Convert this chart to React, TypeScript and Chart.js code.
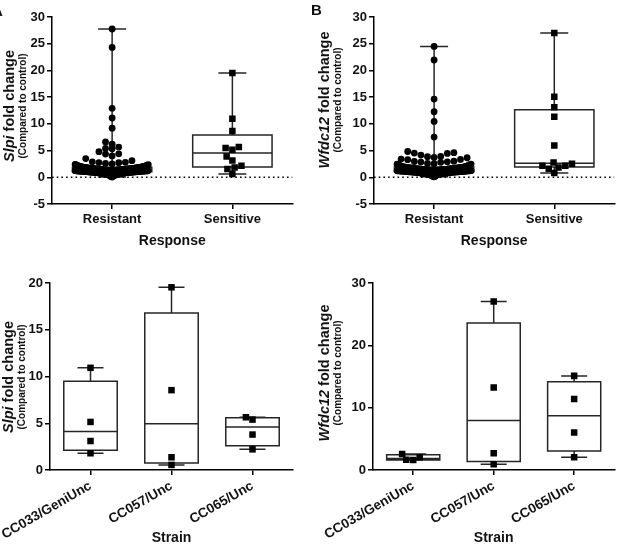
import React, { useEffect, useRef } from "react";
import { Chart, registerables } from "chart.js";

Chart.register(...registerables);

const FONT_FAMILY = "Arial, 'Liberation Sans', Helvetica, sans-serif";
Chart.defaults.font.family = FONT_FAMILY;
Chart.defaults.color = "#111";

// ---------------- data ----------------
const responseGroups = ["Resistant", "Sensitive"];
const strainGroups = ["CC033/GeniUnc", "CC057/Unc", "CC065/Unc"];

const responseTicks = [-5, 0, 5, 10, 15, 20, 25, 30];
const slpiStrainTicks = [0, 5, 10, 15, 20];
const wfdc12StrainTicks = [0, 10, 20, 30];

// Slpi fold change, resistant animals
const slpiResistant = [
  27.75, 24.3, 12.9, 11.1, 9.2, 6.6, 6.2, 5.65, 5.4, 5.35, 4.8, 4.4, 4.35, 4.0, 3.5, 3.1, 2.9, 2.8, 2.76, 2.72,
  1.12, 0.94, 1.47, 1.83, 0.66, 1.29, 2.05, 1.61, 0.88, 1.35, 1.02, 1.74, 0.41, 1.18, 1.93, 1.52, 0.79, 1.26,
  2.21, 1.44, 0.97, 1.67, 1.08, 0.58, 1.39, 1.88, 1.15, 0.73, 1.57, 2.36, 1.21, 0.91, 1.48, 1.79, 1.04, 0.27,
  1.33, 1.64, 0.84, 1.96, 1.11, 1.42, 0.69, 1.71, 1.24, 2.12, 0.99, 1.55, 1.37, 0.82, 1.86, 1.16, 0.52, 1.45,
  1.68, 1.06, 2.49, 1.31, 0.95, 1.59, 0.12, 1.77, 1.22, 0.76, 1.5, 1.99, 1.09, 1.41, 0.63, 1.63, 1.28, 2.28,
  0.86, 1.53, 1.14, 1.9, 0.35, 1.36, 1.72, 1.01, 2.58, 1.19, 0.9, 1.46, 0.05, 1.81, 1.3, 0.71, 1.6, 2.15,
  1.23, 0.81, 1.49, 1.97, 1.07, 1.62, 0.74, 1.38, 1.85, 1.13, 0.93, 1.56, 2.09, 1.27, 0.67, 1.43, 1.76, 1.03,
  1.91, 1.34, 0.89, 1.66, 1.2, 2.31, 0.98, 1.51, 1.17, 0.56, 1.82, 1.4, 1.05, 1.7, 0.84, 1.29, 2.02, 1.58,
  1.1, 0.77, 1.45, 1.94, 1.25, 0.61, 1.65, 1.32, 2.18, 0.96, 1.54, 1.15, 1.87, 1.37, 0.44, 1.73, 1.08, 1.48,
  2.41, 0.92, 1.61, 1.21, 1.79, 1.0, 0.7, 1.43, 1.99, 1.31, 0.86, 1.57, 2.25, 1.18, 0.2, 1.69,
];
// Slpi fold change, sensitive animals
const slpiSensitive = [19.5, 10.95, 8.65, 5.47, 5.15, 5.65, 3.9, 3.15, 1.84, 2.15, 1.53, 0.6];

// Wfdc12 fold change, resistant animals
const wfdc12Resistant = [
  24.5, 21.95, 14.64, 12.27, 10.45, 7.53, 4.83, 4.6, 4.53, 4.47, 4.16, 3.9, 3.84, 3.72, 3.66, 3.4, 3.34, 3.3,
  3.0, 2.95, 2.9, 2.85, 2.8,
  1.07, 1.58, 0.83, 1.34, 1.91, 0.62, 1.21, 1.76, 1.45, 0.98, 2.14, 1.13, 1.66, 0.74, 1.29, 1.87, 0.45, 1.52,
  1.03, 2.31, 1.38, 0.89, 1.69, 1.17, 1.99, 0.56, 1.43, 1.25, 0.93, 1.81, 1.61, 0.08, 1.33, 2.07, 1.09, 0.79,
  1.49, 1.72, 1.19, 2.44, 0.67, 1.37, 1.55, 0.96, 1.84, 1.27, 0.31, 1.63, 1.05, 1.95, 1.41, 0.85, 1.74, 1.15,
  2.22, 1.31, 0.7, 1.57, 1.0, 1.89, 1.23, 0.5, 1.47, 2.53, 1.11, 1.67, 0.92, 1.35, 1.79, 0.19, 1.53, 1.2, 2.01,
  0.76, 1.4, 1.64, 1.01, 1.86, 2.6, 1.28, 0.6, 1.5, 1.94, 1.14, 0.87, 1.71,
  1.18, 0.9, 1.54, 2.03, 1.1, 1.65, 0.72, 1.36, 1.83, 1.24, 0.97, 1.6, 2.17, 1.3, 0.64, 1.46, 1.78, 1.06,
  1.92, 1.39, 0.88, 1.7, 1.22, 2.34, 1.0, 1.56, 1.16, 0.53, 1.85, 1.42, 1.04, 1.73, 0.81, 1.26, 2.1, 1.62,
  1.12, 0.75, 1.48, 1.97, 1.28, 0.58, 1.68, 1.33, 2.26, 0.94, 1.51, 1.19, 1.9, 1.37, 0.41, 1.76, 1.08, 1.44,
  2.47, 0.99, 1.59, 1.25, 1.82, 1.02, 0.68, 1.47, 2.05, 1.32, 0.84, 1.55, 2.38, 1.2, 0.14, 1.71,
];
// Wfdc12 fold change, sensitive animals
const wfdc12Sensitive = [27.0, 15.07, 13.1, 11.35, 5.96, 2.53, 2.77, 1.84, 2.15, 2.15, 1.59, 0.79];

// per-strain values
const slpiCC033 = [10.93, 5.14, 3.1, 1.79];
const slpiCC057 = [19.54, 8.54, 1.36, 0.54];
const slpiCC065 = [5.64, 5.39, 3.79, 2.21];
const wfdc12CC033 = [2.57, 2.04, 1.66, 1.6];
const wfdc12CC057 = [27.05, 13.23, 2.68, 0.91];
const wfdc12CC065 = [15.1, 11.4, 6.0, 2.04];

// ---------------- helpers ----------------
type Marker = "circle" | "rect";

type PanelSpec = {
  left: number;
  top: number;
  width: number;
  height: number;
  pad: { left: number; top: number; right: number; bottom: number };
  yAxisWidth: number;
  xAxisHeight: number;
  categories: string[];
  groups: number[][];
  markers: Marker[];
  yTicks: number[];
  zeroLine: boolean;
  xTitle: string;
  titlePadBottom: number;
  labelRotation: number;
  tickFontSize: number;
  boxFraction: number;
  capWidth: number;
  swarmHalfWidth: number;
};

// quartiles computed the (n + 1) way
function quantile(sorted: number[], p: number): number {
  const n = sorted.length;
  const pos = p * (n + 1);
  if (pos <= 1) return sorted[0];
  if (pos >= n) return sorted[n - 1];
  const lo = Math.floor(pos);
  const frac = pos - lo;
  return sorted[lo - 1] + frac * (sorted[lo] - sorted[lo - 1]);
}

function summarize(values: number[]) {
  const s = [...values].sort((a, b) => a - b);
  return {
    min: s[0],
    q1: quantile(s, 0.25),
    med: quantile(s, 0.5),
    q3: quantile(s, 0.75),
    max: s[s.length - 1],
  };
}

// Small groups: greedy beeswarm, each point takes the free spot nearest the centre.
function swarmOffsets(pys: number[], d: number, maxHalf: number): number[] {
  const placed: { x: number; y: number }[] = [];
  const out: number[] = [];
  const d2 = d * d;
  for (const py of pys) {
    const near = placed.filter((p) => Math.abs(p.y - py) < d);
    const cands = [0];
    for (const p of near) {
      const w = Math.sqrt(d2 - (p.y - py) ** 2);
      cands.push(p.x - w, p.x + w);
    }
    const free = (x: number) => near.every((p) => (p.x - x) ** 2 + (p.y - py) ** 2 >= d2 - 1e-6);
    let best: number | null = null;
    for (const c of cands) {
      if (Math.abs(c) > maxHalf || !free(c)) continue;
      if (
        best === null ||
        Math.abs(c) < Math.abs(best) - 1e-9 ||
        (Math.abs(Math.abs(c) - Math.abs(best)) < 1e-9 && c < best)
      ) {
        best = c;
      }
    }
    if (best === null) best = 0;
    placed.push({ x: best, y: py });
    out.push(best);
  }
  return out;
}

// Large groups: points are binned in rows one marker high; within a row they fan
// out alternately left/right in ascending order, squeezed to fit the column.
function rowOffsets(pys: number[], py0: number, d: number, maxHalf: number): number[] {
  const rows = new Map<number, number[]>();
  pys.forEach((py, k) => {
    const r = Math.floor((py0 - py) / d);
    if (!rows.has(r)) rows.set(r, []);
    rows.get(r)!.push(k);
  });
  const out = new Array(pys.length).fill(0);
  rows.forEach((idx) => {
    const n = idx.length;
    const slots = Math.max(1, Math.ceil((n - 1) / 2));
    const step = Math.min(d, maxHalf / slots);
    idx.forEach((k, j) => {
      if (j === 0) out[k] = 0;
      else if (j % 2 === 1) out[k] = -((j + 1) / 2) * step;
      else out[k] = (j / 2) * step;
    });
  });
  return out;
}

function makeBoxPlugin(spec: PanelSpec) {
  return {
    id: "boxWhisker",
    beforeDatasetsDraw(chart: any) {
      const { ctx } = chart;
      const xs = chart.scales.x;
      const ys = chart.scales.y;
      const unit = xs.getPixelForValue(1) - xs.getPixelForValue(0);
      ctx.save();
      ctx.strokeStyle = "#262626";
      ctx.lineWidth = 1.5;
      spec.groups.forEach((vals, i) => {
        const st = summarize(vals);
        const cx = xs.getPixelForValue(i);
        const bw = (unit * spec.boxFraction) / 2;
        const cw = spec.capWidth / 2;
        const py = (v: number) => ys.getPixelForValue(v);
        ctx.beginPath();
        ctx.moveTo(cx, py(st.q3));
        ctx.lineTo(cx, py(st.max));
        ctx.moveTo(cx - cw, py(st.max));
        ctx.lineTo(cx + cw, py(st.max));
        ctx.moveTo(cx, py(st.q1));
        ctx.lineTo(cx, py(st.min));
        ctx.moveTo(cx - cw, py(st.min));
        ctx.lineTo(cx + cw, py(st.min));
        ctx.rect(cx - bw, py(st.q3), 2 * bw, py(st.q1) - py(st.q3));
        ctx.moveTo(cx - bw, py(st.med));
        ctx.lineTo(cx + bw, py(st.med));
        ctx.stroke();
      });
      ctx.restore();
    },
  };
}

function buildConfig(spec: PanelSpec): any {
  const n = spec.categories.length;
  const datasets: any[] = spec.groups.map((vals, i) => ({
    label: spec.categories[i],
    data: vals.map((v) => ({ x: i, y: v })),
    pointStyle: spec.markers[i],
    pointRadius: spec.markers[i] === "rect" ? 4.6 : 3.4,
    pointBackgroundColor: "#000",
    pointBorderWidth: 0,
    showLine: false,
  }));
  if (spec.zeroLine) {
    datasets.push({
      label: "baseline",
      data: [
        { x: -0.5, y: 0 },
        { x: n - 0.5, y: 0 },
      ],
      showLine: true,
      pointRadius: 0,
      borderColor: "#000",
      borderWidth: 1.4,
      borderDash: [1.6, 3.1],
    });
  }
  const yMin = spec.yTicks[0];
  const yMax = spec.yTicks[spec.yTicks.length - 1];
  const gridStyle = {
    display: true,
    drawOnChartArea: false,
    drawTicks: true,
    tickLength: 5,
    color: "#000",
    lineWidth: 1.5,
  };
  const borderStyle = { display: true, color: "#000", width: 1.5 };
  return {
    type: "scatter",
    data: { datasets },
    options: {
      responsive: false,
      animation: false,
      events: [],
      layout: { padding: spec.pad },
      plugins: { legend: { display: false }, tooltip: { enabled: false } },
      scales: {
        x: {
          type: "linear",
          min: -0.5,
          max: n - 0.5,
          afterBuildTicks: (s: any) => {
            s.ticks = spec.categories.map((_, i) => ({ value: i }));
          },
          afterFit: (s: any) => {
            s.height = spec.xAxisHeight;
            s.paddingLeft = 0;
            s.paddingRight = 0;
          },
          ticks: {
            autoSkip: false,
            minRotation: spec.labelRotation,
            maxRotation: spec.labelRotation,
            padding: 3,
            color: "#111",
            font: { size: spec.tickFontSize, weight: "bold" },
            callback: (v: number) => spec.categories[Math.round(v)],
          },
          grid: gridStyle,
          border: borderStyle,
          title: {
            display: true,
            text: spec.xTitle,
            color: "#111",
            font: { size: 14, weight: "bold", lineHeight: 1 },
            padding: { top: 0, bottom: spec.titlePadBottom },
          },
        },
        y: {
          type: "linear",
          min: yMin,
          max: yMax,
          afterBuildTicks: (s: any) => {
            s.ticks = spec.yTicks.map((v) => ({ value: v }));
          },
          afterFit: (s: any) => {
            s.width = spec.yAxisWidth;
            s.paddingTop = 0;
            s.paddingBottom = 0;
          },
          ticks: {
            padding: 2,
            color: "#111",
            font: { size: 13, weight: "bold" },
          },
          grid: gridStyle,
          border: borderStyle,
        },
      },
    },
    plugins: [makeBoxPlugin(spec)],
  };
}

function applySwarm(chart: any, spec: PanelSpec) {
  const xs = chart.scales.x;
  const ys = chart.scales.y;
  const unit = xs.getPixelForValue(1) - xs.getPixelForValue(0);
  const py0 = ys.getPixelForValue(0);
  spec.groups.forEach((vals, i) => {
    const sorted = [...vals].sort((a, b) => a - b);
    const d = spec.markers[i] === "rect" ? 7 : 6.6;
    const pys = sorted.map((v) => ys.getPixelForValue(v));
    const offs =
      sorted.length > 30
        ? rowOffsets(pys, py0, d, spec.swarmHalfWidth)
        : swarmOffsets(pys, d, spec.swarmHalfWidth);
    chart.data.datasets[i].data = sorted.map((v, k) => ({ x: i + offs[k] / unit, y: v }));
  });
  chart.update();
}

function Panel({ spec }: { spec: PanelSpec }) {
  const ref = useRef<HTMLCanvasElement>(null);
  useEffect(() => {
    if (!ref.current) return;
    const chart = new Chart(ref.current, buildConfig(spec));
    applySwarm(chart, spec);
    return () => chart.destroy();
  }, [spec]);
  return (
    <div
      style={{
        position: "absolute",
        left: spec.left,
        top: spec.top,
        width: spec.width,
        height: spec.height,
      }}
    >
      <canvas
        ref={ref}
        width={spec.width}
        height={spec.height}
        style={{ width: spec.width, height: spec.height, display: "block" }}
      />
    </div>
  );
}

function YTitle({ cx, cy, gene }: { cx: number; cy: number; gene: string }) {
  return (
    <div
      style={{
        position: "absolute",
        left: cx,
        top: cy,
        transform: "translate(-50%, -50%) rotate(-90deg)",
        whiteSpace: "nowrap",
        textAlign: "center",
        fontFamily: FONT_FAMILY,
        fontWeight: "bold",
        color: "#111",
      }}
    >
      <div style={{ fontSize: 14.5, lineHeight: "15px" }}>
        <i>{gene}</i> fold change
      </div>
      <div style={{ fontSize: 10, lineHeight: "11px" }}>(Compared to control)</div>
    </div>
  );
}

const panelA: PanelSpec = {
  left: 0,
  top: 0,
  width: 310,
  height: 250,
  pad: { left: 0, top: 17, right: 17.5, bottom: 0 },
  yAxisWidth: 52,
  xAxisHeight: 46,
  categories: responseGroups,
  groups: [slpiResistant, slpiSensitive],
  markers: ["circle", "rect"],
  yTicks: responseTicks,
  zeroLine: true,
  xTitle: "Response",
  titlePadBottom: 1.7,
  labelRotation: 0,
  tickFontSize: 13,
  boxFraction: 0.66,
  capWidth: 28,
  swarmHalfWidth: 37,
};

const panelB: PanelSpec = {
  ...panelA,
  left: 310,
  width: 309,
  pad: { left: 0, top: 17, right: 3, bottom: 0 },
  yAxisWidth: 64,
  groups: [wfdc12Resistant, wfdc12Sensitive],
};

const panelC: PanelSpec = {
  left: 0,
  top: 250,
  width: 310,
  height: 295,
  pad: { left: 0, top: 33, right: 17, bottom: 0 },
  yAxisWidth: 50,
  xAxisHeight: 75,
  categories: strainGroups,
  groups: [slpiCC033, slpiCC057, slpiCC065],
  markers: ["rect", "rect", "rect"],
  yTicks: slpiStrainTicks,
  zeroLine: false,
  xTitle: "Strain",
  titlePadBottom: 0,
  labelRotation: 30,
  tickFontSize: 13.5,
  boxFraction: 0.66,
  capWidth: 26,
  swarmHalfWidth: 20,
};

const panelD: PanelSpec = {
  ...panelC,
  left: 310,
  width: 309,
  pad: { left: 0, top: 33, right: 3, bottom: 0 },
  yAxisWidth: 63,
  groups: [wfdc12CC033, wfdc12CC057, wfdc12CC065],
  yTicks: wfdc12StrainTicks,
};

const letterStyle: React.CSSProperties = {
  position: "absolute",
  fontFamily: FONT_FAMILY,
  fontWeight: "bold",
  fontSize: 15,
  lineHeight: "15px",
  color: "#111",
};

export default function App() {
  return (
    <div
      style={{
        position: "fixed",
        left: 0,
        top: 0,
        width: 619,
        height: 545,
        background: "#fff",
        overflow: "hidden",
      }}
    >
      <Panel spec={panelA} />
      <Panel spec={panelB} />
      <Panel spec={panelC} />
      <Panel spec={panelD} />
      <YTitle cx={14.5} cy={106} gene="Slpi" />
      <YTitle cx={329.5} cy={100} gene="Wfdc12" />
      <YTitle cx={14} cy={377} gene="Slpi" />
      <YTitle cx={329.5} cy={372.5} gene="Wfdc12" />
      <div style={{ ...letterStyle, left: -8, top: 3 }}>A</div>
      <div style={{ ...letterStyle, left: 311, top: 2 }}>B</div>
    </div>
  );
}
